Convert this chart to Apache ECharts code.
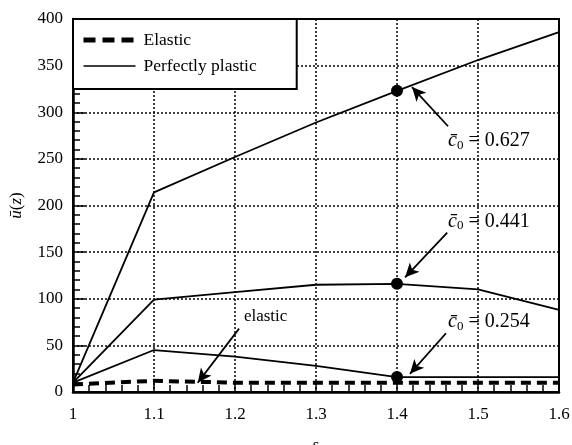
<!DOCTYPE html>
<html>
<head>
<meta charset="utf-8">
<script src="https://cdn.jsdelivr.net/npm/echarts@6/dist/echarts.min.js"></script>
<style>html,body{margin:0;padding:0;background:#fff}#c{width:572px;height:445px}</style>
</head>
<body>
<div id="c"></div>
<script>
const xValues = [1, 1.1, 1.2, 1.3, 1.4, 1.5, 1.6];
const elastic = [8, 12, 10, 10, 10, 10, 10];
const plastic254 = [10, 45, 38, 28, 16, 16, 16];
const plastic441 = [10, 99, 107, 115, 116, 110, 88];
const plastic627 = [10, 214, 252, 289, 323, 356, 386];
const markedX = 1.4;
const curveLabels = ['0.254', '0.441', '0.627'];

// annotation placement (data space)
const labelAnchors = [[1.463, 75], [1.463, 183], [1.463, 269]];
const arrows = [
  [[1.4605, 63], [1.416, 19.5]],
  [[1.462, 171], [1.41, 123]],
  [[1.463, 285], [1.4185, 327]],
  [[1.205, 68], [1.154, 10]]
];
const elasticLabelAnchor = [1.211, 81];

const FONT = 'Liberation Serif';
const pair = arr => xValues.map((x, i) => [x, arr[i]]);
const plastics = [plastic254, plastic441, plastic627];
const mi = xValues.indexOf(markedX);

const chart = echarts.init(document.getElementById('c'));
const plasticSeries = plastics.map(arr => ({
  name: 'Perfectly plastic', type: 'line', data: pair(arr), symbol: 'none',
  lineStyle: { color: '#000', width: 1.8 }, itemStyle: { color: '#000' }, z: 3
}));

chart.setOption({
  animation: false,
  grid: { left: 73, right: 13, top: 19, bottom: 53, show: true, borderColor: '#000', borderWidth: 2, backgroundColor: 'transparent', containLabel: false, outerBoundsMode: 'none' },
  legend: {
    data: [
      { name: 'Elastic', lineStyle: { width: 5, type: [12, 7], color: '#000' } },
      { name: 'Perfectly plastic', lineStyle: { width: 1.5, color: '#000' } }
    ],
    orient: 'vertical', left: 73, top: 19,
    backgroundColor: '#fff', borderColor: '#000', borderWidth: 2,
    padding: [12, 40, 14, 8], itemGap: 8, itemWidth: 52, itemHeight: 14,
    itemStyle: { opacity: 0 },
    textStyle: { fontFamily: FONT, fontSize: 17.5, color: '#000', padding: [0, 0, 0, 3] }, selectedMode: false, z: 10
  },
  xAxis: {
    type: 'value', min: 1, max: 1.6, interval: 0.1,
    name: 's', nameLocation: 'middle', nameGap: 45,
    nameTextStyle: { fontFamily: FONT, fontSize: 17, color: '#000' },
    axisLine: { lineStyle: { color: '#000', width: 2.5 } },
    axisTick: { inside: true, length: 10, lineStyle: { color: '#000', width: 1.5 } },
    minorTick: { show: true, splitNumber: 5, length: 7, lineStyle: { color: '#000', width: 1.5 } },
    axisLabel: { fontFamily: FONT, fontSize: 17, color: '#000', margin: 14, formatter: v => String(Math.round(v * 10) / 10) },
    splitLine: { show: true, lineStyle: { color: '#000', width: 1.5, type: [2, 2] } }
  },
  yAxis: {
    type: 'value', min: 0, max: 400, interval: 50,
    name: '{i|ū}({i|z})', nameLocation: 'middle', nameGap: 48,
    nameTextStyle: { fontFamily: FONT, fontSize: 17, color: '#000', rich: { i: { fontFamily: FONT, fontSize: 17, fontStyle: 'italic' } } },
    axisLine: { lineStyle: { color: '#000', width: 2.5 } },
    axisTick: { inside: true, length: 12, lineStyle: { color: '#000', width: 1.5 } },
    minorTick: { show: true, splitNumber: 5, length: 7, lineStyle: { color: '#000', width: 1.5 } },
    axisLabel: { fontFamily: FONT, fontSize: 17, color: '#000', margin: 10 },
    splitLine: { show: true, lineStyle: { color: '#000', width: 1.5, type: [2, 2] } }
  },
  series: [
    {
      name: 'Elastic', type: 'line', data: pair(elastic), symbol: 'none',
      lineStyle: { color: '#000', width: 4, type: [10, 6] }, itemStyle: { color: '#000' }, z: 4
    },
    ...plasticSeries,
    {
      name: 'points', type: 'scatter', symbol: 'circle', symbolSize: 12,
      itemStyle: { color: '#000', opacity: 1 }, z: 5,
      data: plastics.map(arr => [markedX, arr[mi]]),
      markLine: {
        silent: true, symbol: ['none', 'arrow'], symbolSize: [10, 14],
        lineStyle: { color: '#000', width: 1.8, type: 'solid' }, label: { show: false },
        data: arrows.map(a => [{ coord: a[0] }, { coord: a[1] }])
      },
      markPoint: {
        silent: true, symbol: 'circle', symbolSize: 0,
        label: {
          show: true, position: 'right', distance: 0, color: '#000',
          fontFamily: FONT, fontSize: 20,
          rich: {
            c: { fontFamily: FONT, fontSize: 20, fontStyle: 'italic', color: '#000' },
            s: { fontFamily: FONT, fontSize: 13, color: '#000', padding: [9, 0, 0, 0] },
            t: { fontFamily: FONT, fontSize: 20, color: '#000' },
            e: { fontFamily: FONT, fontSize: 17, color: '#000' }
          }
        },
        data: [
          ...labelAnchors.map((c, i) => ({ coord: c, label: { formatter: '{c|c̄}{s|0}{t| = ' + curveLabels[i] + '}' } })),
          { coord: elasticLabelAnchor, label: { formatter: '{e|elastic}' } }
        ]
      }
    }
  ]
});
</script>
</body>
</html>
